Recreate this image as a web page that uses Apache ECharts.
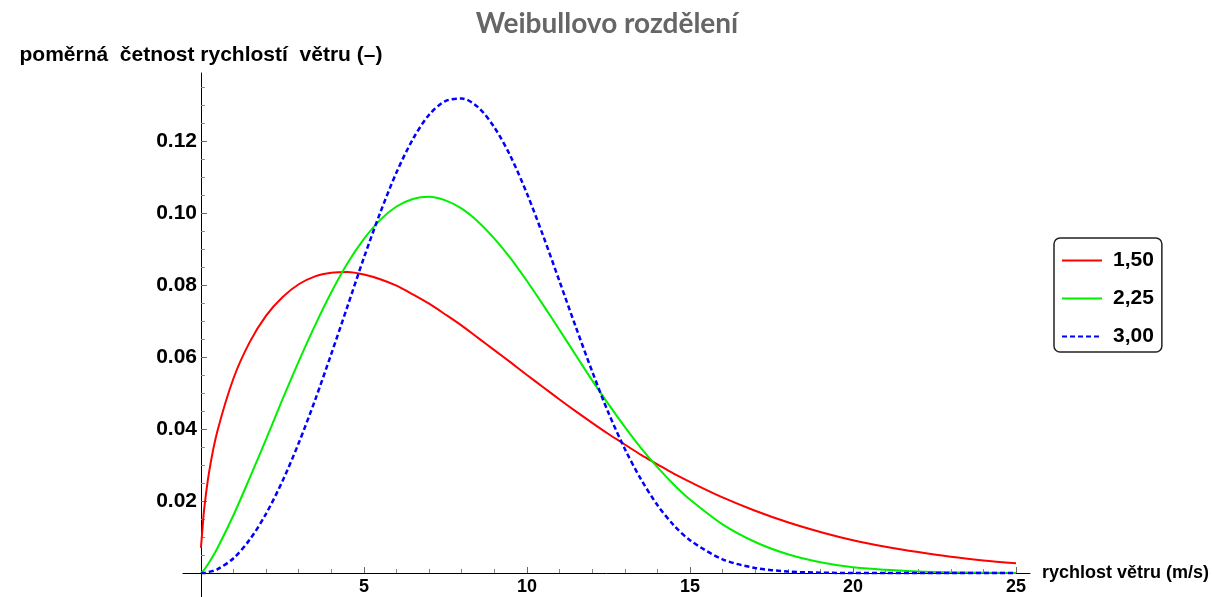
<!DOCTYPE html>
<html>
<head>
<meta charset="utf-8">
<script src="https://cdn.jsdelivr.net/npm/echarts@6/dist/echarts.min.js"></script>
<style>
html,body{margin:0;padding:0;background:#fff;}
#chart{width:1214px;height:597px;}
</style>
</head>
<body>
<div id="chart"></div>
<script>
// wind speed sample positions (m/s)
var windSpeed = [0, 0.05, 0.1, 0.25, 0.5, 1, 1.5, 2, 2.5, 3, 3.5, 4, 4.5, 5, 5.5, 6, 6.5, 7, 7.5, 8, 8.5, 9, 9.5, 10, 10.5, 11, 11.5, 12, 12.5, 13, 13.5, 14, 14.5, 15, 16, 17, 18, 19, 20, 21, 22, 23, 24, 25];
// shape factor 1,50
var k150 = [0.007, 0.0125, 0.0178, 0.0280, 0.0392, 0.0541, 0.0642, 0.0715, 0.0766, 0.0802, 0.0824, 0.0834, 0.0836, 0.0829, 0.0816, 0.0798, 0.0774, 0.0748, 0.0718, 0.0687, 0.0653, 0.0619, 0.0585, 0.0550, 0.0516, 0.0482, 0.0449, 0.0417, 0.0386, 0.0357, 0.0328, 0.0302, 0.0276, 0.0253, 0.0210, 0.0173, 0.0141, 0.0114, 0.0091, 0.0073, 0.0058, 0.0045, 0.0035, 0.0027];
// shape factor 2,25
var k225 = [0, 0.0004, 0.0009, 0.0029, 0.0068, 0.0161, 0.0265, 0.0372, 0.0482, 0.0588, 0.0688, 0.0780, 0.0861, 0.0928, 0.0981, 0.1018, 0.1039, 0.1045, 0.1035, 0.1012, 0.0976, 0.0929, 0.0874, 0.0811, 0.0744, 0.0675, 0.0605, 0.0535, 0.0469, 0.0406, 0.0347, 0.0294, 0.0246, 0.0204, 0.0135, 0.0086, 0.0052, 0.0030, 0.0016, 0.0009, 0.0004, 0.0002, 0.0001, 0.0000];
// shape factor 3,00
var k300 = [0, 0, 0, 0.0003, 0.0010, 0.0041, 0.0093, 0.0165, 0.0255, 0.0361, 0.0480, 0.0609, 0.0742, 0.0876, 0.1001, 0.1113, 0.1205, 0.1273, 0.1311, 0.1318, 0.1294, 0.1238, 0.1157, 0.1054, 0.0936, 0.0810, 0.0683, 0.0560, 0.0445, 0.0345, 0.0260, 0.0189, 0.0133, 0.0091, 0.0038, 0.0014, 0.0004, 0.0001, 0, 0, 0, 0, 0, 0];
var seriesNames = ['1,50', '2,25', '3,00'];
var xMajorTicks = [5, 10, 15, 20, 25];
var xMinorTicks = [1,2,3,4,6,7,8,9,11,12,13,14,16,17,18,19,21,22,23,24];
var yMajorTicks = [0.02, 0.04, 0.06, 0.08, 0.10, 0.12];
var yMinorTicks = [0.005,0.01,0.015,0.025,0.03,0.035,0.045,0.05,0.055,0.065,0.07,0.075,0.085,0.09,0.095,0.105,0.11,0.115,0.125,0.13,0.135];

function pairs(ys){ return windSpeed.map(function(x,i){ return [x, ys[i]]; }); }

var X_MIN = -0.55, X_MAX = 25.43, Y_MIN = -0.00667, Y_MAX = 0.13889;
var FONT = '"Liberation Sans", Arial, sans-serif';

var chart = echarts.init(document.getElementById('chart'), null, {renderer: 'canvas'});
chart.setOption({
  animation: false,
  backgroundColor: '#ffffff',
  title: {
    text: 'Weibullovo rozdělení',
    left: 'center', top: 5,
    textStyle: {fontFamily: 'Lato, sans-serif', fontWeight: 'bold', fontSize: 28, color: '#666666'}
  },
  legend: {
    orient: 'vertical',
    left: 1054, top: 238,
    data: seriesNames,
    itemWidth: 40, itemHeight: 14, itemGap: 17,
    padding: [12, 8, 5, 7],
    borderColor: '#222', borderWidth: 1.5, borderRadius: 6,
    backgroundColor: '#fff',
    itemStyle: {opacity: 0},
    lineStyle: {width: 2},
    textStyle: {fontFamily: FONT, fontWeight: 'bold', fontSize: 21, color: '#000', padding: [0,0,0,6]}
  },
  grid: {left: 183, right: 184, top: 73, bottom: 0, containLabel: false, outerBoundsMode: 'none'},
  xAxis: [{
    type: 'value', min: X_MIN, max: X_MAX, position: 'bottom',
    name: 'rychlost větru (m/s)', nameLocation: 'end', nameGap: 12,
    nameTextStyle: {fontFamily: FONT, fontWeight: 'bold', fontSize: 18, color: '#000', verticalAlign: 'middle'},
    axisLine: {onZero: true, lineStyle: {color: '#000', width: 1}},
    axisTick: {show: true, inside: true, length: 6, customValues: xMajorTicks, lineStyle: {color: '#666'}},
    axisLabel: {customValues: xMajorTicks, margin: -19, fontFamily: FONT, fontWeight: 'bold', fontSize: 18, color: '#000'},
    splitLine: {show: false}
  }, {
    type: 'value', min: X_MIN, max: X_MAX, position: 'bottom',
    axisLine: {show: false, onZero: true},
    axisTick: {show: true, inside: true, length: 4, customValues: xMinorTicks, lineStyle: {color: '#888'}},
    axisLabel: {show: false},
    splitLine: {show: false}
  }],
  yAxis: [{
    type: 'value', min: Y_MIN, max: Y_MAX, position: 'left',
    name: 'poměrná  četnost rychlostí  větru (–)', nameLocation: 'end', nameGap: 7,
    nameTextStyle: {fontFamily: FONT, fontWeight: 'bold', fontSize: 21, color: '#000', align: 'center'},
    axisLine: {onZero: true, lineStyle: {color: '#000', width: 1}},
    axisTick: {show: true, inside: true, length: 6, customValues: yMajorTicks, lineStyle: {color: '#666'}},
    axisLabel: {customValues: yMajorTicks, margin: -14, fontFamily: FONT, fontWeight: 'bold', fontSize: 21, color: '#000',
      formatter: function(v){ return v.toFixed(2); }},
    splitLine: {show: false}
  }, {
    type: 'value', min: Y_MIN, max: Y_MAX, position: 'left',
    axisLine: {show: false, onZero: true},
    axisTick: {show: true, inside: true, length: 4, customValues: yMinorTicks, lineStyle: {color: '#888'}},
    axisLabel: {show: false},
    splitLine: {show: false}
  }],
  series: [{
    name: seriesNames[0], type: 'line', data: pairs(k150),
    smooth: 0.3, showSymbol: false, symbol: 'none',
    lineStyle: {color: '#ff0000', width: 2}, itemStyle: {color: '#ff0000'}, z: 3
  }, {
    name: seriesNames[1], type: 'line', data: pairs(k225),
    smooth: 0.3, showSymbol: false, symbol: 'none',
    lineStyle: {color: '#00f000', width: 2}, itemStyle: {color: '#00f000'}, z: 3
  }, {
    name: seriesNames[2], type: 'line', data: pairs(k300),
    smooth: 0.3, showSymbol: false, symbol: 'none',
    lineStyle: {color: '#0000ff', width: 2.5, type: [5, 3]}, itemStyle: {color: '#0000ff'}, z: 4
  }]
});
</script>
</body>
</html>
